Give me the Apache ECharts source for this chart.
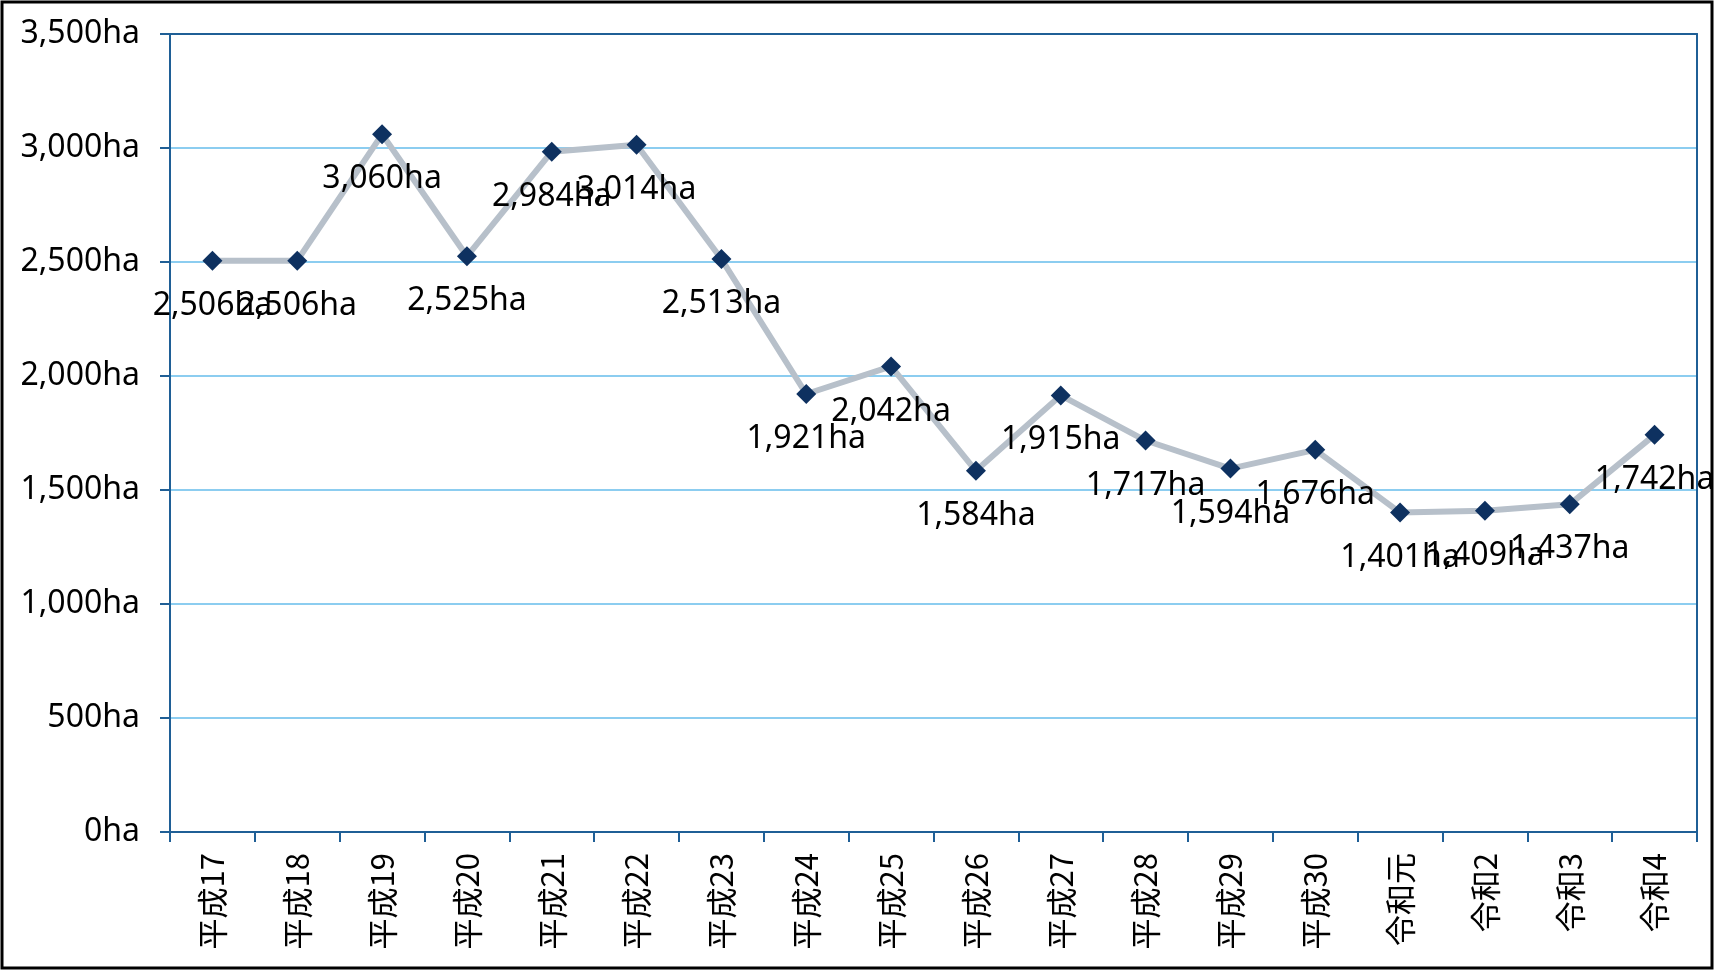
<!DOCTYPE html>
<html><head><meta charset="utf-8">
<script src="https://cdn.jsdelivr.net/npm/echarts@6/dist/echarts.min.js"></script>
<style>html,body{margin:0;padding:0;background:#fff}#c{width:1715px;height:971px}</style>
</head><body><div id="c"></div>
<script>
const categories = ['平成17','平成18','平成19','平成20','平成21','平成22','平成23','平成24','平成25','平成26','平成27','平成28','平成29','平成30','令和元','令和2','令和3','令和4'];
const areaHa = [2506,2506,3060,2525,2984,3014,2513,1921,2042,1584,1915,1717,1594,1676,1401,1409,1437,1742];
const yTicks = {min:0, max:3500, interval:500};

const fmt = v => v.toLocaleString('en-US') + 'ha';
const FONT = '"Noto Sans", "Noto Sans CJK JP", sans-serif';
const CJK = '"Noto Sans CJK JP", "Noto Sans", sans-serif';
const AX = '#1f5f96';
const chart = echarts.init(document.getElementById('c'));
chart.setOption({
  animation:false,
  backgroundColor:'#fff',
  graphic:[{type:'rect', shape:{x:2,y:2,width:1710,height:966}, style:{fill:'none', stroke:'#000', lineWidth:3}, z:-1}],
  grid:{left:170, top:34, right:18, bottom:139},
  xAxis:[{type:'category', data:categories, boundaryGap:true,
    axisLine:{lineStyle:{color:AX, width:2}},
    axisTick:{show:true, length:10, lineStyle:{color:AX, width:2}},
    axisLabel:{rotate:90, margin:21, color:'#000', fontSize:31, fontFamily:CJK, interval:0}},
    {type:'category', data:categories, position:'top', axisLine:{show:true, onZero:false, lineStyle:{color:AX, width:2}}, axisTick:{show:false}, axisLabel:{show:false}}],
  yAxis:[{type:'value', min:yTicks.min, max:yTicks.max, interval:yTicks.interval,
    axisLine:{show:true, lineStyle:{color:AX, width:2}},
    axisTick:{show:true, length:10, lineStyle:{color:AX, width:2}},
    splitLine:{lineStyle:{color:'#8ccdf0', width:2}},
    axisLabel:{formatter:fmt, margin:30, color:'#000', fontSize:32, fontFamily:FONT}},
    {type:'value', min:yTicks.min, max:yTicks.max, interval:yTicks.interval, position:'right',
    axisLine:{show:true, onZero:false, lineStyle:{color:AX, width:2}}, axisTick:{show:false}, axisLabel:{show:false}, splitLine:{show:false}}],
  series:[{type:'line', data:areaHa,
    symbol:'diamond', symbolSize:20,
    itemStyle:{color:'#0e3160'},
    lineStyle:{color:'#b7c0ca', width:6},
    label:{show:true, position:'bottom', distance:19, formatter:p=>fmt(p.value), color:'#000', fontSize:32, fontFamily:FONT},
    labelLayout:{hideOverlap:false}
  }]
});
</script></body></html>
